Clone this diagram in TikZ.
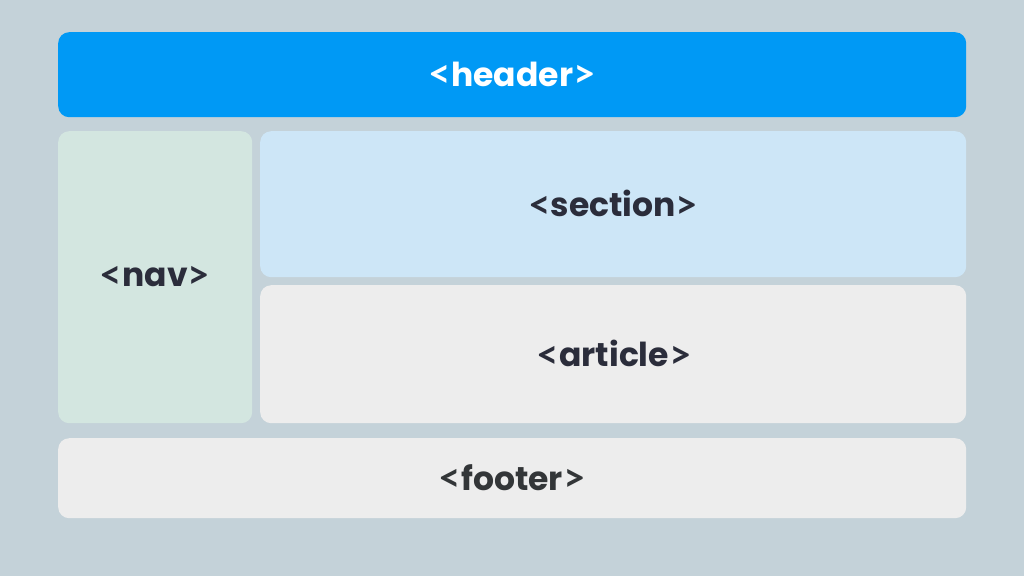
\documentclass[tikz,border=0pt]{standalone}
\usepackage{fontspec}
\setmainfont{Poppins}[UprightFont=* Bold]
\newfontfamily\chevron{Lato}[UprightFont=* Bold]
\definecolor{fond}{HTML}{C4D2D9}
\definecolor{bleuvif}{HTML}{0099F5}
\definecolor{vertpale}{HTML}{D3E6E0}
\definecolor{bleupale}{HTML}{CDE6F7}
\definecolor{grispale}{HTML}{EDEDED}
\definecolor{encre}{HTML}{2B2D3B}
\definecolor{encregris}{HTML}{333638}
\newcommand{\balise}[1]{\raisebox{-1.5pt}{\scalebox{1.18}{\chevron<}}#1\raisebox{-1.5pt}{\scalebox{1.18}{\chevron>}}}

\begin{document}
\begin{tikzpicture}[x=1pt, y=-1pt]
\tikzset{bloc/.style={rounded corners=11pt, inner sep=0pt, anchor=north west, font=\fontsize{33}{40}\selectfont, text=encre}}
\fill[fond] (0, 0) rectangle (1024, 576);
\node[bloc, fill=bleuvif, text=white, minimum width=908pt, minimum height=85pt] (Header) at (58, 32) {\balise{header}};
\node[bloc, fill=vertpale, minimum width=194pt, minimum height=292pt] (Nav) at (58, 131) {\balise{nav}};
\node[bloc, fill=bleupale, minimum width=706pt, minimum height=146pt] (Section) at (260, 131) {\balise{section}};
\node[bloc, fill=grispale, minimum width=706pt, minimum height=138pt] (Article) at (260, 285) {\hspace*{2pt}\balise{article}};
\node[bloc, fill=grispale, text=encregris, minimum width=908pt, minimum height=80pt] (Footer) at (58, 438) {\balise{footer}};
\end{tikzpicture}
\end{document}
